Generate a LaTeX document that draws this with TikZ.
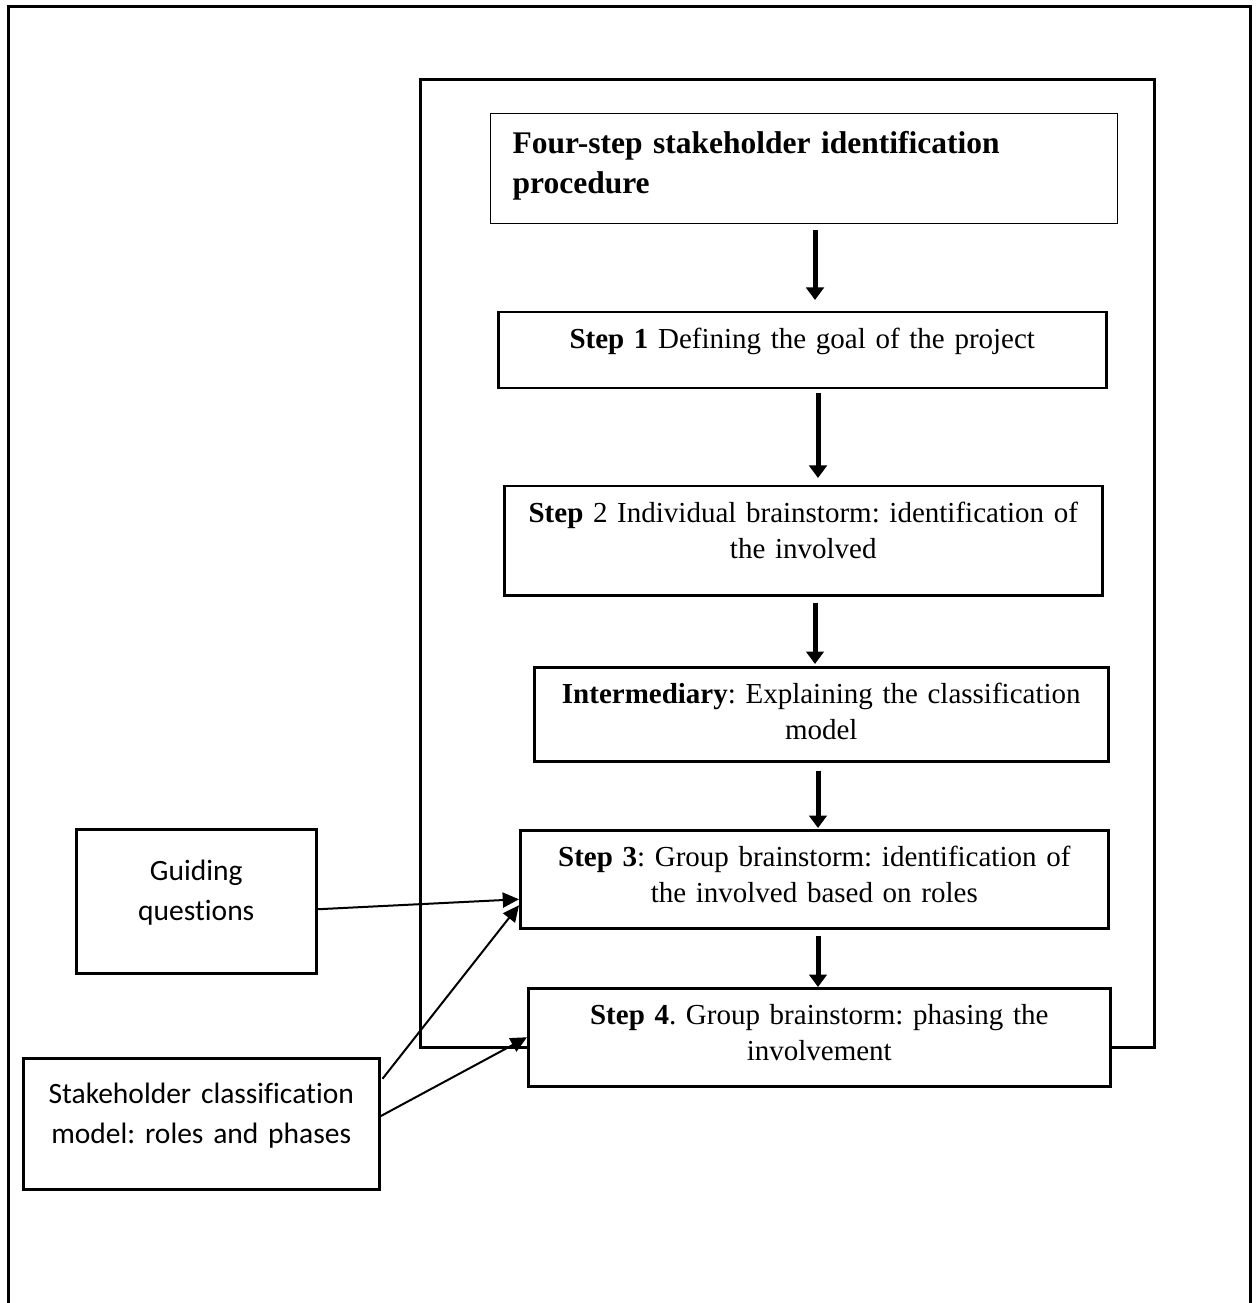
\documentclass[tikz,border=0pt]{standalone}
\usepackage{fontspec}
\setmainfont{Liberation Serif}
\setsansfont{Carlito}[Ligatures=NoCommon]
\usetikzlibrary{arrows.meta,calc}
\frenchspacing

\begin{document}
\begin{tikzpicture}[x=0.4pt, y=-0.4pt,
    box/.style={draw, fill=white, anchor=north west, line width=1pt, inner xsep=4pt, inner ysep=5pt,
      text height=9.5pt, align=center, font=\fontsize{11.6}{14.4}\selectfont},
    sidebox/.style={box, font=\sffamily\fontsize{11.8}{16}\selectfont},
    flow/.style={line width=2pt, -{Triangle[length=5pt, width=7pt]}},
    link/.style={line width=0.8pt, -{Triangle[length=6.5pt, width=6pt]}}]
  \useasboundingbox (0,0) rectangle (1256,1303);
  \draw[line width=1.2pt] (8,1310) -- (8,7) -- (1250,7) -- (1250,1310);
  \draw[line width=1.2pt] (420,80) rectangle (1154,1047);

  \node[box, line width=0.5pt, inner xsep=8.8pt, text width=233.2pt, align=left, text height=11pt, text depth=23pt,
    font=\bfseries\fontsize{12.6}{16}\selectfont] (title) at (490,113) {Four-step stakeholder identification\\procedure};
  \node[box, text width=235.2pt, text depth=10.9pt] (step1) at (497,311) {\textbf{Step 1} Defining the goal of the project};
  \node[box, text width=231.2pt, text depth=24.1pt] (step2) at (503,485) {\textbf{Step} 2 Individual brainstorm: identification of\\the involved};
  \node[box, text width=221.6pt, text depth=18.1pt] (inter) at (533,666) {\textbf{Intermediary}: Explaining the classification\\model};
  \node[box, text width=227.2pt, text depth=19.7pt] (step3) at (519,829) {\textbf{Step 3}: Group brainstorm: identification of\\the involved based on roles};
  \node[box, text width=224.8pt, text depth=19.7pt] (step4) at (527,987) {\textbf{Step 4}. Group brainstorm: phasing the\\involvement};
  \node[sidebox, text width=88pt, text height=15.4pt, text depth=32.2pt] (guide) at (75,828) {Guiding\\questions};
  \node[sidebox, text width=134.4pt, text height=13pt, text depth=29.4pt] (stake) at (22,1057) {Stakeholder classification\\model: roles and phases};

  \foreach \a/\b/\x/\s/\e in {title/step1/815/2.4/4.4, step1/step2/818/1.6/2.8, step2/inter/815/2.4/0.8, inter/step3/818/3.2/0.4, step3/step4/818/2.4/0}
    \draw[flow, shorten <=\s pt, shorten >=\e pt] (\a.south -| \x,0) -- (\b.north -| \x,0);

  \draw[link] ($(guide.east)+(0,8)$) -- ($(step3.west)+(0,20)$);
  \draw[link] ($(stake.east)+(2,-45)$) -- ($(step3.west)+(0,26)$);
  \draw[link] ($(stake.east)+(-1,-7)$) -- (step4.west);
\end{tikzpicture}
\end{document}
